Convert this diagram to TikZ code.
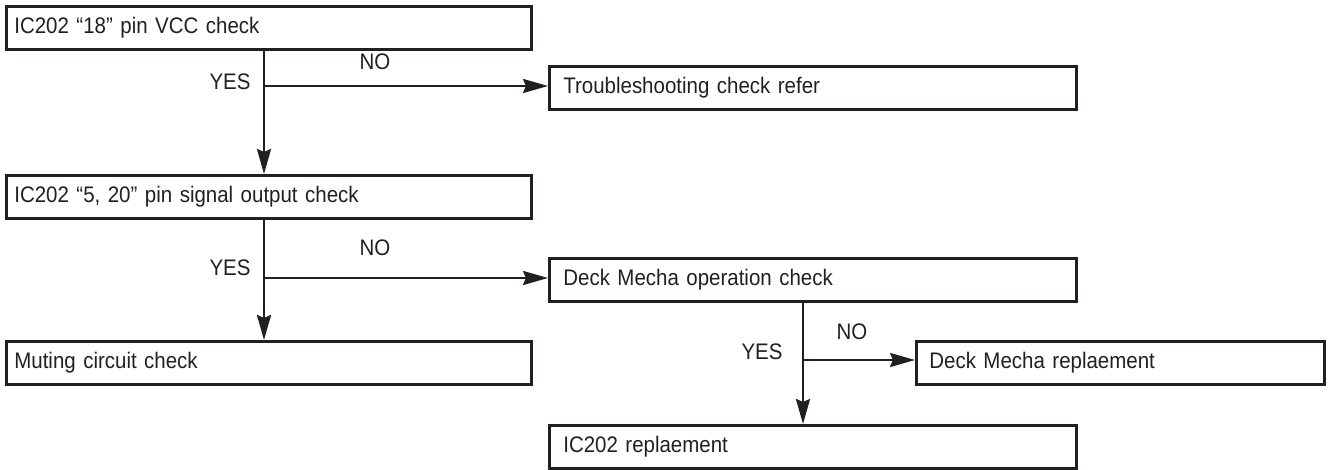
\documentclass[tikz,border=0pt]{standalone}
\usepackage{fontspec}
\setmainfont{Liberation Sans}[FakeStretch=0.91,WordSpace=0.65]
\usetikzlibrary{arrows.meta}
\definecolor{ink}{RGB}{35,31,32}
\begin{document}
\begin{tikzpicture}[x=1pt,y=1pt,
  box/.style={draw=ink, line width=2.7pt, minimum height=43pt, inner xsep=8pt,
    anchor=north west, align=left, font=\fontsize{22.5}{26}\selectfont, text=ink},
  lbl/.style={font=\fontsize{22.5}{26}\selectfont, text=ink},
  conn/.style={draw=ink, line width=2.7pt},
  arr/.style={conn, -{Stealth[length=25pt,width=14pt,inset=3pt]}}]
\useasboundingbox (0,0) rectangle (1330,-470);
\node[box, text width=509pt] (b1) at (5,-5) {IC202 “18” pin VCC check};
\node[box, text width=509pt] (b2) at (5,-174) {IC202 “5, 20” pin signal output check};
\node[box, text width=509pt] (b3) at (5,-340) {Muting circuit check};
\node[box, text width=499pt, inner xsep=14pt] (t) at (548,-65) {Troubleshooting check refer};
\node[box, text width=499pt, inner xsep=14pt] (d) at (548,-257) {Deck Mecha operation check};
\node[box, text width=382pt, inner xsep=13pt] (r) at (915,-340) {Deck Mecha replaement};
\node[box, text width=499pt, inner xsep=14pt] (i) at (548,-424) {IC202 replaement};
% first decision
\coordinate (j1) at (264,-86);
\draw[conn] (b1.south -| j1) -- (j1);
\draw[arr] (j1) -- (b2.north -| j1);
\draw[arr] (j1) -- (t.west |- j1);
\node[lbl] (y1) at (230,-82) {YES};
\node[lbl] (n1) at (375,-62) {NO};
% second decision
\coordinate (j2) at (264,-278);
\draw[conn] (b2.south -| j2) -- (j2);
\draw[arr] (j2) -- (b3.north -| j2);
\draw[arr] (j2) -- (d.west |- j2);
\node[lbl] (y2) at (230,-268) {YES};
\node[lbl] (n2) at (375,-248) {NO};
% third decision
\coordinate (j3) at (803,-360);
\draw[conn] (d.south -| j3) -- (j3);
\draw[arr] (j3) -- (i.north -| j3);
\draw[arr] (j3) -- (r.west |- j3);
\node[lbl] (y3) at (762,-352) {YES};
\node[lbl] (n3) at (852,-332) {NO};
\end{tikzpicture}
\end{document}
